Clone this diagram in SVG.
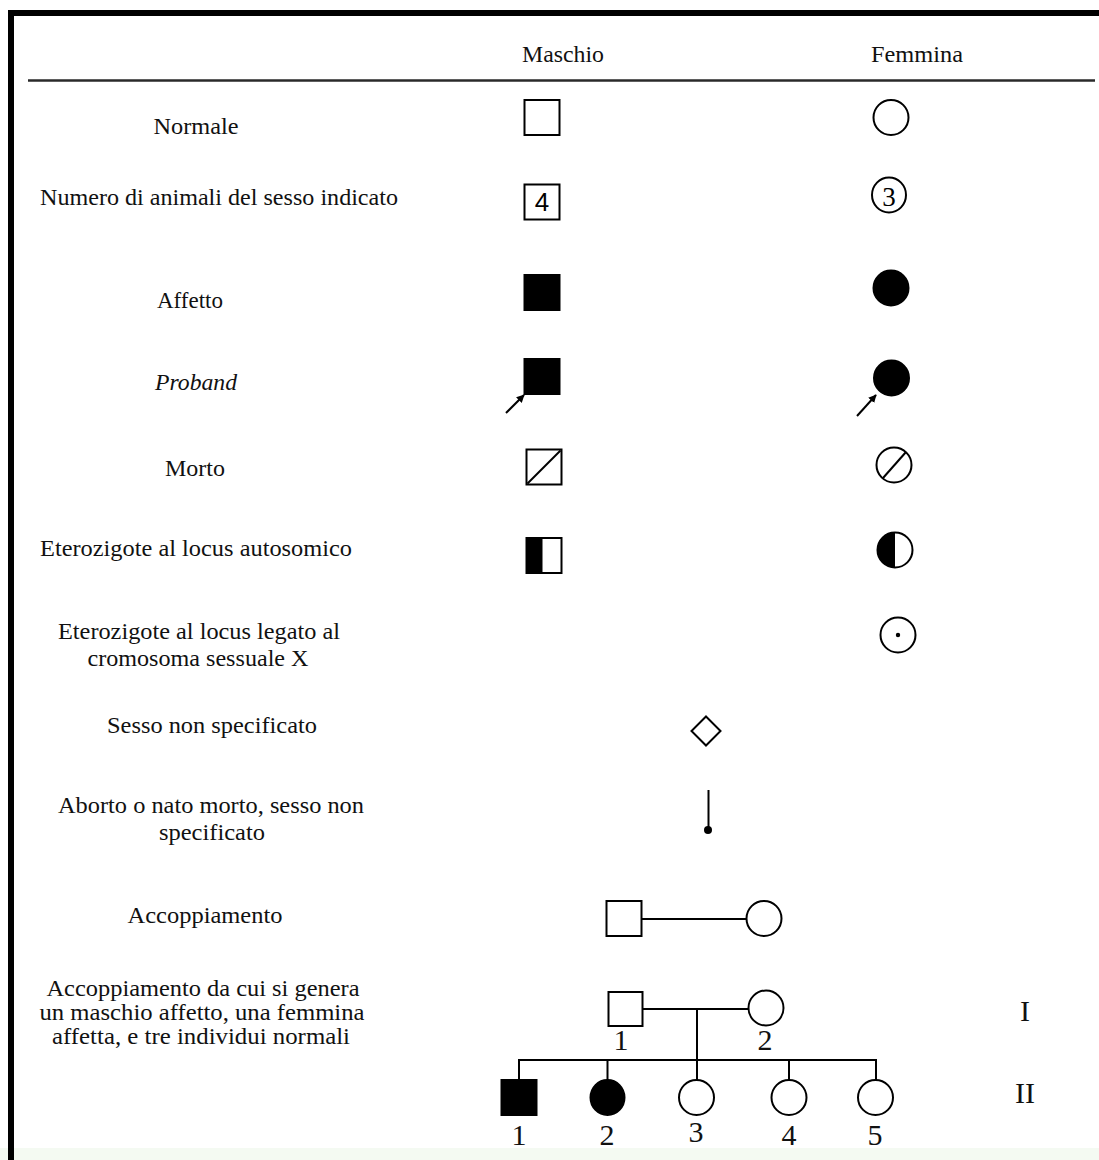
<svg xmlns="http://www.w3.org/2000/svg" width="1099" height="1160" viewBox="0 0 1099 1160">
  <style>
    .lbl { font-family: "Liberation Serif", "Times New Roman", serif; font-size: 23px; fill: #111; text-anchor: middle; }
    .num { font-family: "Liberation Serif", "Times New Roman", serif; font-size: 30px; fill: #111; text-anchor: middle; }
    .sym { fill: #fff; stroke: #000; stroke-width: 2; }
    .aff { fill: #000; stroke: #000; stroke-width: 2; }
    .ln { stroke: #000; stroke-width: 2; fill: none; }
  </style>
  <defs>
    <marker id="arrowhead" viewBox="0 0 10 10" refX="9" refY="5" markerWidth="4" markerHeight="4" orient="auto">
      <path d="M0,0 L10,5 L0,10 z" fill="#000"/>
    </marker>
  </defs>

  <rect x="0" y="0" width="1099" height="1160" fill="#fff"/>
  <rect x="0" y="1148" width="1099" height="12" fill="#f4faf2"/>

  <!-- frame -->
  <rect x="8" y="10" width="1091" height="6" fill="#000"/>
  <rect x="8" y="10" width="6" height="1150" fill="#000"/>

  <!-- column headers -->
  <g id="header">
    <text class="lbl" x="563" y="62" textLength="82" lengthAdjust="spacingAndGlyphs">Maschio</text>
    <text class="lbl" x="917" y="62" textLength="92" lengthAdjust="spacingAndGlyphs">Femmina</text>
    <line x1="28" y1="80.5" x2="1095" y2="80.5" stroke="#2a2a2a" stroke-width="2.5"/>
  </g>

  <!-- row labels -->
  <g id="labels">
    <text class="lbl" x="196" y="134" textLength="85" lengthAdjust="spacingAndGlyphs">Normale</text>
    <text class="lbl" x="219" y="205" textLength="358" lengthAdjust="spacingAndGlyphs">Numero di animali del sesso indicato</text>
    <text class="lbl" x="190" y="308" textLength="66" lengthAdjust="spacingAndGlyphs">Affetto</text>
    <text class="lbl" x="196" y="390" font-style="italic" textLength="82" lengthAdjust="spacingAndGlyphs">Proband</text>
    <text class="lbl" x="195" y="476" textLength="60" lengthAdjust="spacingAndGlyphs">Morto</text>
    <text class="lbl" x="196" y="556" textLength="312" lengthAdjust="spacingAndGlyphs">Eterozigote al locus autosomico</text>
    <text class="lbl" x="199" y="639" textLength="282" lengthAdjust="spacingAndGlyphs">Eterozigote al locus legato al</text>
    <text class="lbl" x="198" y="666" textLength="221" lengthAdjust="spacingAndGlyphs">cromosoma sessuale X</text>
    <text class="lbl" x="212" y="733" textLength="210" lengthAdjust="spacingAndGlyphs">Sesso non specificato</text>
    <text class="lbl" x="211" y="813" textLength="306" lengthAdjust="spacingAndGlyphs">Aborto o nato morto, sesso non</text>
    <text class="lbl" x="212" y="840" textLength="106" lengthAdjust="spacingAndGlyphs">specificato</text>
    <text class="lbl" x="205" y="923" textLength="155" lengthAdjust="spacingAndGlyphs">Accoppiamento</text>
    <text class="lbl" x="203" y="996" textLength="313" lengthAdjust="spacingAndGlyphs">Accoppiamento da cui si genera</text>
    <text class="lbl" x="202" y="1020" textLength="325" lengthAdjust="spacingAndGlyphs">un maschio affetto, una femmina</text>
    <text class="lbl" x="201" y="1044" textLength="298" lengthAdjust="spacingAndGlyphs">affetta, e tre individui normali</text>
  </g>

  <!-- legend symbols: male column -->
  <g id="male-normal"><rect class="sym" x="524.5" y="100" width="35" height="35"/></g>
  <g id="male-count">
    <rect class="sym" x="524.5" y="184.5" width="35" height="35"/>
    <text x="542" y="211" font-family="Liberation Sans, Arial, sans-serif" font-size="26" text-anchor="middle" fill="#000">4</text>
  </g>
  <g id="male-affected"><rect class="aff" x="524.5" y="275" width="35" height="35"/></g>
  <g id="male-proband">
    <rect class="aff" x="524.5" y="359" width="35" height="35"/>
    <line class="ln" x1="506" y1="413" x2="524" y2="395" stroke-width="1.6" marker-end="url(#arrowhead)"/>
  </g>
  <g id="male-dead">
    <rect class="sym" x="526.5" y="449.5" width="35" height="35"/>
    <line class="ln" x1="527.5" y1="483.5" x2="560.5" y2="450.5" stroke-width="1.6"/>
  </g>
  <g id="male-het">
    <rect class="sym" x="526.5" y="538" width="35" height="35"/>
    <rect x="526.5" y="538" width="16" height="35" fill="#000"/>
  </g>

  <!-- legend symbols: female column -->
  <g id="female-normal"><circle class="sym" cx="891" cy="117.5" r="17.5"/></g>
  <g id="female-count">
    <ellipse class="sym" cx="889" cy="195" rx="17" ry="17.5"/>
    <text x="889" y="206" font-family="Liberation Serif, Times New Roman, serif" font-size="27" text-anchor="middle" fill="#000">3</text>
  </g>
  <g id="female-affected"><circle class="aff" cx="891" cy="288" r="17.5"/></g>
  <g id="female-proband">
    <circle class="aff" cx="891.5" cy="378" r="17.5"/>
    <line class="ln" x1="857" y1="416" x2="876" y2="395" stroke-width="1.6" marker-end="url(#arrowhead)"/>
  </g>
  <g id="female-dead">
    <circle class="sym" cx="894" cy="465" r="17.5"/>
    <line class="ln" x1="883" y1="478" x2="906" y2="452" stroke-width="1.6"/>
  </g>
  <g id="female-het">
    <circle class="sym" cx="895" cy="550" r="17.5"/>
    <path d="M895,532.5 A17.5,17.5 0 0 0 895,567.5 Z" fill="#000"/>
  </g>
  <g id="female-xcarrier">
    <circle class="sym" cx="898" cy="635" r="17.5"/>
    <circle cx="898" cy="635" r="2.2" fill="#000"/>
  </g>

  <!-- sex unspecified / stillbirth -->
  <g id="unspecified"><path class="sym" d="M706,716.5 L720.5,731 L706,745.5 L691.5,731 Z" stroke-width="1.8"/></g>
  <g id="stillbirth">
    <line class="ln" x1="708.5" y1="790" x2="708.5" y2="828"/>
    <circle cx="708" cy="830" r="4" fill="#000"/>
  </g>

  <!-- mating example -->
  <g id="mate-male"><rect class="sym" x="606.5" y="901" width="35" height="35"/></g>
  <g id="mate-female"><circle class="sym" cx="764" cy="918.5" r="17.5"/></g>

  <!-- pedigree: generation I -->
  <g id="I-1">
    <rect class="sym" x="608.5" y="992" width="34" height="34"/>
    <text class="num" x="621" y="1050">1</text>
  </g>
  <g id="I-2">
    <circle class="sym" cx="766" cy="1008" r="17.5"/>
    <text class="num" x="765" y="1050">2</text>
  </g>

  <!-- pedigree: generation II -->
  <g id="II-1">
    <rect class="aff" x="501.5" y="1080" width="35" height="35"/>
    <text class="num" x="519" y="1145">1</text>
  </g>
  <g id="II-2">
    <ellipse class="aff" cx="607.5" cy="1097.5" rx="17" ry="17.5"/>
    <text class="num" x="607" y="1145">2</text>
  </g>
  <g id="II-3">
    <ellipse class="sym" cx="696.5" cy="1097.5" rx="17.5" ry="17.5"/>
    <text class="num" x="696" y="1142">3</text>
  </g>
  <g id="II-4">
    <ellipse class="sym" cx="789" cy="1097.5" rx="17.5" ry="17.5"/>
    <text class="num" x="789" y="1145">4</text>
  </g>
  <g id="II-5">
    <ellipse class="sym" cx="875.5" cy="1097.5" rx="17.5" ry="17.5"/>
    <text class="num" x="875" y="1145">5</text>
  </g>

  <!-- generation numerals -->
  <g id="generations">
    <text class="num" x="1025" y="1021">I</text>
    <text class="num" x="1025" y="1103">II</text>
  </g>

  <!-- connectors -->
  <g id="connectors" class="ln">
    <line x1="641.5" y1="919" x2="746.5" y2="919"/>
    <line x1="642.5" y1="1009" x2="748.5" y2="1009"/>
    <line x1="697" y1="1009" x2="697" y2="1060"/>
    <line x1="518" y1="1060" x2="877" y2="1060"/>
    <line x1="519" y1="1060" x2="519" y2="1080"/>
    <line x1="607.5" y1="1060" x2="607.5" y2="1080"/>
    <line x1="697" y1="1060" x2="697" y2="1080"/>
    <line x1="789" y1="1060" x2="789" y2="1080"/>
    <line x1="876" y1="1060" x2="876" y2="1080"/>
  </g>
</svg>
